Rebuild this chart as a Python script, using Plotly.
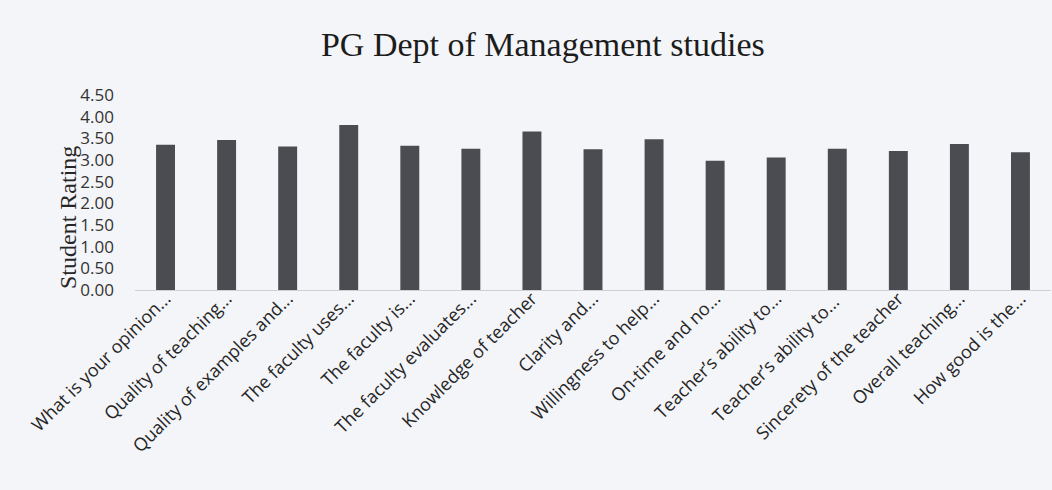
import plotly.graph_objects as go

# Questions (truncated as on the chart) and mean student rating
perguntas = [
    "What is your opinion...",
    "Quality of teaching...",
    "Quality of examples and...",
    "The faculty uses...",
    "The faculty is...",
    "The faculty evaluates...",
    "Knowledge of teacher",
    "Clarity and...",
    "Willingness to help...",
    "On-time and no...",
    "Teacher’s ability to...",
    "Teacher’s ability to... ",
    "Sincerety of the teacher",
    "Overall teaching...",
    "How good is the...",
]
notas = [3.35, 3.46, 3.31, 3.81, 3.33, 3.26, 3.66, 3.25, 3.48, 2.98, 3.06, 3.26, 3.21, 3.37, 3.18]
ticks_y = [0, 0.5, 1, 1.5, 2, 2.5, 3, 3.5, 4, 4.5]

fig = go.Figure()

fig.add_trace(go.Bar(
    x=perguntas,
    y=notas,
    marker=dict(color="#4b4c52", line=dict(width=0)),
    width=0.31,
    name="Student Rating",
))

fig.update_layout(
    width=1052,
    height=490,
    margin=dict(l=135, r=1, t=95, b=200),
    paper_bgcolor="#f4f5f9",
    plot_bgcolor="#f4f5f9",
    showlegend=False,
    title=dict(
        text="PG Dept of Management studies",
        font=dict(family="Liberation Serif", size=34, color="#1c1c1c"),
        x=0.516, xanchor="center", y=0.91, yanchor="middle",
    ),
)

fig.update_xaxes(
    tickangle=-45,
    tickfont=dict(family="Open Sans", size=18, color="#262626"),
    ticklabelstandoff=-10,
    showline=True, linecolor="#cfd0d6", linewidth=1,
    ticks="", showgrid=False,
)

fig.update_yaxes(
    range=[0, 4.5],
    tickvals=ticks_y,
    ticktext=[f"{v:.2f}" for v in ticks_y],
    tickfont=dict(family="Open Sans", size=17, color="#333333"),
    ticklabelstandoff=20,
    showgrid=False, zeroline=False, showline=False,
)

# y-axis title placed like the Excel original (sits over the tick labels)
fig.add_annotation(
    text="Student Rating",
    xref="paper", yref="paper",
    x=-0.073, y=0.37,
    xanchor="center", yanchor="middle",
    textangle=-90, showarrow=False,
    font=dict(family="Liberation Serif", size=24, color="#262626"),
)

# no page margin, so the figure fills the window like the original
fig.write_html("out.html", config={"displayModeBar": False},
               post_script="document.body.style.margin='0';")
